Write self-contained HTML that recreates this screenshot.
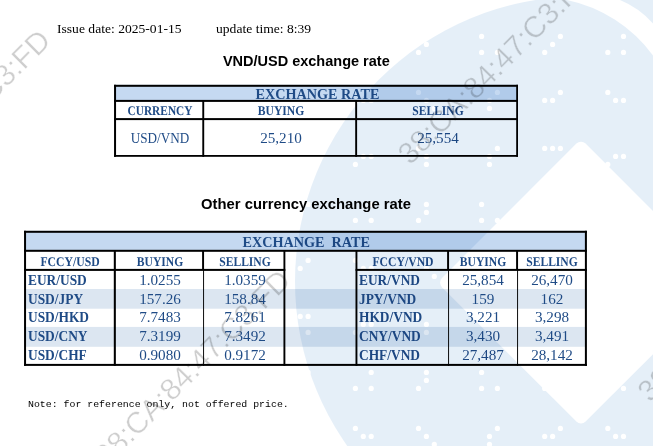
<!DOCTYPE html>
<html><head><meta charset="utf-8"><title>Exchange rate</title>
<style>
html,body{margin:0;padding:0;background:#fff;}
body{width:653px;height:446px;position:relative;overflow:hidden;font-family:"Liberation Serif",serif;}
.t{position:absolute;white-space:nowrap;}
.r{position:absolute;}
.wm{position:absolute;left:0;top:0;pointer-events:none;}
.ov{mix-blend-mode:multiply;}

.wt text{font-family:"Liberation Sans",sans-serif;font-size:30px;fill:#cecece;stroke:#fff;stroke-width:0.35px;paint-order:fill stroke;}
</style></head><body>
<svg class="wm" width="653" height="446" viewBox="0 0 653 446"><rect x="114.05" y="84.80" width="403.95" height="16.20" fill="#c5d9f1"/><rect x="114.05" y="84.80" width="403.95" height="2.00" fill="#000"/><rect x="114.05" y="99.90" width="403.95" height="2.00" fill="#000"/><rect x="114.05" y="118.10" width="403.95" height="2.00" fill="#000"/><rect x="114.05" y="155.00" width="403.95" height="1.80" fill="#000"/><rect x="114.05" y="84.80" width="2.00" height="72.00" fill="#000"/><rect x="516.20" y="84.80" width="1.80" height="72.00" fill="#000"/><rect x="202.30" y="100.00" width="1.90" height="56.80" fill="#000"/><rect x="355.20" y="100.00" width="1.90" height="56.80" fill="#000"/><rect x="24.05" y="230.80" width="562.85" height="20.20" fill="#c5d9f1"/><rect x="24.05" y="289.00" width="562.85" height="19.70" fill="#dce6f1"/><rect x="24.05" y="326.90" width="562.85" height="19.90" fill="#dce6f1"/><rect x="24.05" y="230.80" width="562.85" height="2.00" fill="#000"/><rect x="24.05" y="249.80" width="562.85" height="2.00" fill="#000"/><rect x="24.05" y="363.90" width="562.85" height="2.00" fill="#000"/><rect x="24.05" y="268.90" width="261.25" height="2.00" fill="#000"/><rect x="355.60" y="268.90" width="231.30" height="2.00" fill="#000"/><rect x="24.05" y="230.80" width="2.00" height="135.10" fill="#000"/><rect x="584.90" y="230.80" width="2.00" height="135.10" fill="#000"/><rect x="113.80" y="250.00" width="2.05" height="115.90" fill="#000"/><rect x="283.45" y="250.00" width="1.90" height="115.90" fill="#000"/><rect x="355.50" y="250.00" width="1.90" height="115.90" fill="#000"/><rect x="202.10" y="250.00" width="1.95" height="20.00" fill="#000"/><rect x="203.10" y="269.00" width="0.95" height="96.90" fill="#000"/><rect x="447.10" y="250.00" width="1.95" height="20.00" fill="#000"/><rect x="448.10" y="269.00" width="0.95" height="96.90" fill="#000"/><rect x="516.10" y="250.00" width="1.95" height="20.00" fill="#000"/><rect x="517.10" y="269.00" width="0.95" height="96.90" fill="#000"/></svg>
<div class="t" style="top:20.40px;font-size:13.33px;line-height:17px;color:#000;left:57.20px;transform:scaleX(1.02);transform-origin:0 0;">Issue date: 2025-01-15</div>
<div class="t" style="top:20.40px;font-size:13.33px;line-height:17px;color:#000;left:216.00px;transform:scaleX(1.02);transform-origin:0 0;">update time: 8:39</div>
<div class="t" style="top:51.88px;font-size:14.5px;line-height:19px;color:#000;font-family:'Liberation Sans', sans-serif;font-weight:bold;left:156.30px;width:300px;text-align:center;">VND/USD exchange rate</div>
<div class="t" style="top:195.42px;font-size:14.67px;line-height:19px;color:#000;font-family:'Liberation Sans', sans-serif;font-weight:bold;left:156.00px;width:300px;text-align:center;transform:scaleX(1.01);transform-origin:50% 0;">Other currency exchange rate</div>
<div class="t" style="top:84.81px;font-size:14.2px;line-height:18px;color:#1f4b86;font-weight:bold;left:167.50px;width:300px;text-align:center;">EXCHANGE RATE</div>
<div class="t" style="top:101.91px;font-size:13.3px;line-height:17px;color:#1f4b86;font-weight:bold;text-rendering:geometricPrecision;left:10.10px;width:300px;text-align:center;transform:scaleX(0.854);transform-origin:50% 0;">CURRENCY</div>
<div class="t" style="top:101.91px;font-size:13.3px;line-height:17px;color:#1f4b86;font-weight:bold;text-rendering:geometricPrecision;left:130.50px;width:300px;text-align:center;transform:scaleX(0.874);transform-origin:50% 0;">BUYING</div>
<div class="t" style="top:101.91px;font-size:13.3px;line-height:17px;color:#1f4b86;font-weight:bold;text-rendering:geometricPrecision;left:287.50px;width:300px;text-align:center;transform:scaleX(0.868);transform-origin:50% 0;">SELLING</div>
<div class="t" style="top:129.51px;font-size:13.9px;line-height:18px;color:#1f4b86;left:9.80px;width:300px;text-align:center;transform:scaleX(0.948);transform-origin:50% 0;">USD/VND</div>
<div class="t" style="top:128.75px;font-size:14.67px;line-height:19px;color:#1f4b86;left:130.50px;width:300px;text-align:center;transform:scaleX(1.035);transform-origin:50% 0;">25,210</div>
<div class="t" style="top:128.75px;font-size:14.67px;line-height:19px;color:#1f4b86;left:287.50px;width:300px;text-align:center;transform:scaleX(1.035);transform-origin:50% 0;">25,554</div>
<div class="t" style="top:232.71px;font-size:14.2px;line-height:18px;color:#1f4b86;font-weight:bold;left:156.20px;width:300px;text-align:center;">EXCHANGE&nbsp; RATE</div>
<div class="t" style="top:252.91px;font-size:13.3px;line-height:17px;color:#1f4b86;font-weight:bold;text-rendering:geometricPrecision;left:-79.80px;width:300px;text-align:center;transform:scaleX(0.881);transform-origin:50% 0;">FCCY/USD</div>
<div class="t" style="top:252.91px;font-size:13.3px;line-height:17px;color:#1f4b86;font-weight:bold;text-rendering:geometricPrecision;left:9.60px;width:300px;text-align:center;transform:scaleX(0.871);transform-origin:50% 0;">BUYING</div>
<div class="t" style="top:252.91px;font-size:13.3px;line-height:17px;color:#1f4b86;font-weight:bold;text-rendering:geometricPrecision;left:94.60px;width:300px;text-align:center;transform:scaleX(0.871);transform-origin:50% 0;">SELLING</div>
<div class="t" style="top:252.91px;font-size:13.3px;line-height:17px;color:#1f4b86;font-weight:bold;text-rendering:geometricPrecision;left:252.50px;width:300px;text-align:center;transform:scaleX(0.881);transform-origin:50% 0;">FCCY/VND</div>
<div class="t" style="top:252.91px;font-size:13.3px;line-height:17px;color:#1f4b86;font-weight:bold;text-rendering:geometricPrecision;left:333.00px;width:300px;text-align:center;transform:scaleX(0.871);transform-origin:50% 0;">BUYING</div>
<div class="t" style="top:252.91px;font-size:13.3px;line-height:17px;color:#1f4b86;font-weight:bold;text-rendering:geometricPrecision;left:402.00px;width:300px;text-align:center;transform:scaleX(0.871);transform-origin:50% 0;">SELLING</div>
<div class="t" style="top:271.91px;font-size:13.6px;line-height:18px;color:#1f4b86;font-weight:bold;left:27.90px;transform:scaleX(0.985);transform-origin:0 0;">EUR/USD</div>
<div class="t" style="top:270.55px;font-size:14.67px;line-height:19px;color:#1f4b86;left:9.50px;width:300px;text-align:center;transform:scaleX(1.035);transform-origin:50% 0;">1.0255</div>
<div class="t" style="top:270.55px;font-size:14.67px;line-height:19px;color:#1f4b86;left:94.60px;width:300px;text-align:center;transform:scaleX(1.035);transform-origin:50% 0;">1.0359</div>
<div class="t" style="top:271.91px;font-size:13.6px;line-height:18px;color:#1f4b86;font-weight:bold;left:358.90px;transform:scaleX(0.985);transform-origin:0 0;">EUR/VND</div>
<div class="t" style="top:270.55px;font-size:14.67px;line-height:19px;color:#1f4b86;left:333.00px;width:300px;text-align:center;transform:scaleX(1.035);transform-origin:50% 0;">25,854</div>
<div class="t" style="top:270.55px;font-size:14.67px;line-height:19px;color:#1f4b86;left:402.00px;width:300px;text-align:center;transform:scaleX(1.035);transform-origin:50% 0;">26,470</div>
<div class="t" style="top:290.91px;font-size:13.6px;line-height:18px;color:#1f4b86;font-weight:bold;left:27.90px;transform:scaleX(0.985);transform-origin:0 0;">USD/JPY</div>
<div class="t" style="top:289.55px;font-size:14.67px;line-height:19px;color:#1f4b86;left:9.50px;width:300px;text-align:center;transform:scaleX(1.035);transform-origin:50% 0;">157.26</div>
<div class="t" style="top:289.55px;font-size:14.67px;line-height:19px;color:#1f4b86;left:94.60px;width:300px;text-align:center;transform:scaleX(1.035);transform-origin:50% 0;">158.84</div>
<div class="t" style="top:290.91px;font-size:13.6px;line-height:18px;color:#1f4b86;font-weight:bold;left:358.90px;transform:scaleX(0.985);transform-origin:0 0;">JPY/VND</div>
<div class="t" style="top:289.55px;font-size:14.67px;line-height:19px;color:#1f4b86;left:333.00px;width:300px;text-align:center;transform:scaleX(1.035);transform-origin:50% 0;">159</div>
<div class="t" style="top:289.55px;font-size:14.67px;line-height:19px;color:#1f4b86;left:402.00px;width:300px;text-align:center;transform:scaleX(1.035);transform-origin:50% 0;">162</div>
<div class="t" style="top:309.41px;font-size:13.6px;line-height:18px;color:#1f4b86;font-weight:bold;left:27.90px;transform:scaleX(0.985);transform-origin:0 0;">USD/HKD</div>
<div class="t" style="top:308.05px;font-size:14.67px;line-height:19px;color:#1f4b86;left:9.50px;width:300px;text-align:center;transform:scaleX(1.035);transform-origin:50% 0;">7.7483</div>
<div class="t" style="top:308.05px;font-size:14.67px;line-height:19px;color:#1f4b86;left:94.60px;width:300px;text-align:center;transform:scaleX(1.035);transform-origin:50% 0;">7.8261</div>
<div class="t" style="top:309.41px;font-size:13.6px;line-height:18px;color:#1f4b86;font-weight:bold;left:358.90px;transform:scaleX(0.985);transform-origin:0 0;">HKD/VND</div>
<div class="t" style="top:308.05px;font-size:14.67px;line-height:19px;color:#1f4b86;left:333.00px;width:300px;text-align:center;transform:scaleX(1.035);transform-origin:50% 0;">3,221</div>
<div class="t" style="top:308.05px;font-size:14.67px;line-height:19px;color:#1f4b86;left:402.00px;width:300px;text-align:center;transform:scaleX(1.035);transform-origin:50% 0;">3,298</div>
<div class="t" style="top:328.21px;font-size:13.6px;line-height:18px;color:#1f4b86;font-weight:bold;left:27.90px;transform:scaleX(0.985);transform-origin:0 0;">USD/CNY</div>
<div class="t" style="top:326.85px;font-size:14.67px;line-height:19px;color:#1f4b86;left:9.50px;width:300px;text-align:center;transform:scaleX(1.035);transform-origin:50% 0;">7.3199</div>
<div class="t" style="top:326.85px;font-size:14.67px;line-height:19px;color:#1f4b86;left:94.60px;width:300px;text-align:center;transform:scaleX(1.035);transform-origin:50% 0;">7.3492</div>
<div class="t" style="top:328.21px;font-size:13.6px;line-height:18px;color:#1f4b86;font-weight:bold;left:358.90px;transform:scaleX(0.985);transform-origin:0 0;">CNY/VND</div>
<div class="t" style="top:326.85px;font-size:14.67px;line-height:19px;color:#1f4b86;left:333.00px;width:300px;text-align:center;transform:scaleX(1.035);transform-origin:50% 0;">3,430</div>
<div class="t" style="top:326.85px;font-size:14.67px;line-height:19px;color:#1f4b86;left:402.00px;width:300px;text-align:center;transform:scaleX(1.035);transform-origin:50% 0;">3,491</div>
<div class="t" style="top:347.21px;font-size:13.6px;line-height:18px;color:#1f4b86;font-weight:bold;left:27.90px;transform:scaleX(0.985);transform-origin:0 0;">USD/CHF</div>
<div class="t" style="top:345.85px;font-size:14.67px;line-height:19px;color:#1f4b86;left:9.50px;width:300px;text-align:center;transform:scaleX(1.035);transform-origin:50% 0;">0.9080</div>
<div class="t" style="top:345.85px;font-size:14.67px;line-height:19px;color:#1f4b86;left:94.60px;width:300px;text-align:center;transform:scaleX(1.035);transform-origin:50% 0;">0.9172</div>
<div class="t" style="top:347.21px;font-size:13.6px;line-height:18px;color:#1f4b86;font-weight:bold;left:358.90px;transform:scaleX(0.985);transform-origin:0 0;">CHF/VND</div>
<div class="t" style="top:345.85px;font-size:14.67px;line-height:19px;color:#1f4b86;left:333.00px;width:300px;text-align:center;transform:scaleX(1.035);transform-origin:50% 0;">27,487</div>
<div class="t" style="top:345.85px;font-size:14.67px;line-height:19px;color:#1f4b86;left:402.00px;width:300px;text-align:center;transform:scaleX(1.035);transform-origin:50% 0;">28,142</div>
<div class="t" style="top:398.06px;font-size:9.9px;line-height:13px;color:#000;font-family:'Liberation Mono', monospace;left:28.00px;">Note: for reference only, not offered price.</div>
<svg class="wm ov" width="653" height="446" viewBox="0 0 653 446">
<defs><mask id="m" maskUnits="userSpaceOnUse" x="0" y="0" width="653" height="446"><rect width="653" height="446" fill="#000"/><circle cx="580" cy="281.5" r="285" fill="#fff"/><path d="M600,-8 L660,-8 L660,60 Z" fill="#fff"/><path d="M556,-6 L567,0 A143.7 143.7 0 0 1 653,55.5 L662,66 L662,32 L653,23.5 A88.8 88.8 0 0 0 620,0 L612,-6 Z" fill="#000"/><rect x="-101.54" y="-101.54" width="203.08" height="203.08" rx="6.5" fill="#000" transform="translate(581 282.6) rotate(45)"/><g fill="#000"><circle cx="308.1" cy="204.4" r="2.6"/><circle cx="300.2" cy="212.4" r="2.6"/><circle cx="308.1" cy="260.4" r="2.6"/><circle cx="292.4" cy="268.4" r="2.6"/><circle cx="300.2" cy="268.4" r="2.6"/><circle cx="300.2" cy="316.4" r="2.6"/><circle cx="308.1" cy="316.4" r="2.6"/><circle cx="308.1" cy="332.4" r="2.6"/><circle cx="308.1" cy="372.4" r="2.6"/><circle cx="363.3" cy="100.4" r="2.6"/><circle cx="371.2" cy="100.4" r="2.6"/><circle cx="355.4" cy="164.4" r="2.6"/><circle cx="363.3" cy="156.4" r="2.6"/><circle cx="371.2" cy="156.4" r="2.6"/><circle cx="371.2" cy="204.4" r="2.6"/><circle cx="355.4" cy="220.4" r="2.6"/><circle cx="371.2" cy="220.4" r="2.6"/><circle cx="355.4" cy="260.4" r="2.6"/><circle cx="363.3" cy="268.4" r="2.6"/><circle cx="371.2" cy="268.4" r="2.6"/><circle cx="355.4" cy="332.4" r="2.6"/><circle cx="363.3" cy="324.4" r="2.6"/><circle cx="371.2" cy="324.4" r="2.6"/><circle cx="371.2" cy="372.4" r="2.6"/><circle cx="355.4" cy="388.4" r="2.6"/><circle cx="371.2" cy="388.4" r="2.6"/><circle cx="355.4" cy="428.4" r="2.6"/><circle cx="363.3" cy="436.4" r="2.6"/><circle cx="371.2" cy="436.4" r="2.6"/><circle cx="426.4" cy="44.4" r="2.6"/><circle cx="418.5" cy="52.4" r="2.6"/><circle cx="418.5" cy="92.4" r="2.6"/><circle cx="426.4" cy="100.4" r="2.6"/><circle cx="434.3" cy="108.4" r="2.6"/><circle cx="418.5" cy="148.4" r="2.6"/><circle cx="426.4" cy="156.4" r="2.6"/><circle cx="426.4" cy="164.4" r="2.6"/><circle cx="426.4" cy="204.4" r="2.6"/><circle cx="426.4" cy="212.4" r="2.6"/><circle cx="418.5" cy="220.4" r="2.6"/><circle cx="418.5" cy="260.4" r="2.6"/><circle cx="426.4" cy="268.4" r="2.6"/><circle cx="434.3" cy="276.4" r="2.6"/><circle cx="418.5" cy="316.4" r="2.6"/><circle cx="426.4" cy="324.4" r="2.6"/><circle cx="426.4" cy="332.4" r="2.6"/><circle cx="426.4" cy="372.4" r="2.6"/><circle cx="426.4" cy="380.4" r="2.6"/><circle cx="418.5" cy="388.4" r="2.6"/><circle cx="418.5" cy="428.4" r="2.6"/><circle cx="426.4" cy="436.4" r="2.6"/><circle cx="434.3" cy="444.4" r="2.6"/><circle cx="481.6" cy="36.4" r="2.6"/><circle cx="481.6" cy="52.4" r="2.6"/><circle cx="497.4" cy="52.4" r="2.6"/><circle cx="497.4" cy="92.4" r="2.6"/><circle cx="489.5" cy="100.4" r="2.6"/><circle cx="489.5" cy="108.4" r="2.6"/><circle cx="497.4" cy="148.4" r="2.6"/><circle cx="489.5" cy="156.4" r="2.6"/><circle cx="489.5" cy="164.4" r="2.6"/><circle cx="481.6" cy="204.4" r="2.6"/><circle cx="481.6" cy="220.4" r="2.6"/><circle cx="497.4" cy="220.4" r="2.6"/><circle cx="497.4" cy="260.4" r="2.6"/><circle cx="489.5" cy="268.4" r="2.6"/><circle cx="489.5" cy="276.4" r="2.6"/><circle cx="497.4" cy="316.4" r="2.6"/><circle cx="489.5" cy="324.4" r="2.6"/><circle cx="489.5" cy="332.4" r="2.6"/><circle cx="481.6" cy="372.4" r="2.6"/><circle cx="481.6" cy="388.4" r="2.6"/><circle cx="497.4" cy="388.4" r="2.6"/><circle cx="497.4" cy="428.4" r="2.6"/><circle cx="489.5" cy="436.4" r="2.6"/><circle cx="489.5" cy="444.4" r="2.6"/><circle cx="560.4" cy="-3.6" r="2.6"/><circle cx="560.4" cy="36.4" r="2.6"/><circle cx="552.6" cy="44.4" r="2.6"/><circle cx="544.7" cy="52.4" r="2.6"/><circle cx="560.4" cy="92.4" r="2.6"/><circle cx="544.7" cy="100.4" r="2.6"/><circle cx="552.6" cy="100.4" r="2.6"/><circle cx="544.7" cy="148.4" r="2.6"/><circle cx="552.6" cy="148.4" r="2.6"/><circle cx="560.4" cy="148.4" r="2.6"/><circle cx="560.4" cy="164.4" r="2.6"/><circle cx="560.4" cy="204.4" r="2.6"/><circle cx="552.6" cy="212.4" r="2.6"/><circle cx="544.7" cy="220.4" r="2.6"/><circle cx="560.4" cy="260.4" r="2.6"/><circle cx="544.7" cy="268.4" r="2.6"/><circle cx="552.6" cy="268.4" r="2.6"/><circle cx="544.7" cy="316.4" r="2.6"/><circle cx="552.6" cy="316.4" r="2.6"/><circle cx="560.4" cy="316.4" r="2.6"/><circle cx="560.4" cy="332.4" r="2.6"/><circle cx="560.4" cy="372.4" r="2.6"/><circle cx="552.6" cy="380.4" r="2.6"/><circle cx="544.7" cy="388.4" r="2.6"/><circle cx="560.4" cy="428.4" r="2.6"/><circle cx="544.7" cy="436.4" r="2.6"/><circle cx="552.6" cy="436.4" r="2.6"/><circle cx="607.8" cy="-3.6" r="2.6"/><circle cx="623.5" cy="36.4" r="2.6"/><circle cx="607.8" cy="52.4" r="2.6"/><circle cx="623.5" cy="52.4" r="2.6"/><circle cx="607.8" cy="92.4" r="2.6"/><circle cx="615.6" cy="100.4" r="2.6"/><circle cx="623.5" cy="100.4" r="2.6"/><circle cx="607.8" cy="164.4" r="2.6"/><circle cx="615.6" cy="156.4" r="2.6"/><circle cx="623.5" cy="156.4" r="2.6"/><circle cx="623.5" cy="204.4" r="2.6"/><circle cx="607.8" cy="220.4" r="2.6"/><circle cx="623.5" cy="220.4" r="2.6"/><circle cx="607.8" cy="260.4" r="2.6"/><circle cx="615.6" cy="268.4" r="2.6"/><circle cx="623.5" cy="268.4" r="2.6"/><circle cx="607.8" cy="332.4" r="2.6"/><circle cx="615.6" cy="324.4" r="2.6"/><circle cx="623.5" cy="324.4" r="2.6"/><circle cx="623.5" cy="372.4" r="2.6"/><circle cx="607.8" cy="388.4" r="2.6"/><circle cx="623.5" cy="388.4" r="2.6"/><circle cx="607.8" cy="428.4" r="2.6"/><circle cx="615.6" cy="436.4" r="2.6"/><circle cx="623.5" cy="436.4" r="2.6"/></g></mask></defs>
<rect class="logo" width="653" height="446" fill="#e5eff8" mask="url(#m)"/>
</svg>
<svg class="wm ov" width="653" height="446" viewBox="0 0 653 446">
<g class="wt">
<text text-anchor="end" transform="translate(52.2 42.1) rotate(-45)">38:CA:84:47:C3:FD</text>
<text text-anchor="end" transform="translate(292.2 282.1) rotate(-45)">38:CA:84:47:C3:FD</text>
<text text-anchor="end" transform="translate(595.4 -19.4) rotate(-45)">38:CA:84:47:C3:FD</text>
<text text-anchor="end" transform="translate(835.2 218.1) rotate(-45)">38:CA:84:47:C3:FD</text>
</g>
</svg>
</body></html>
